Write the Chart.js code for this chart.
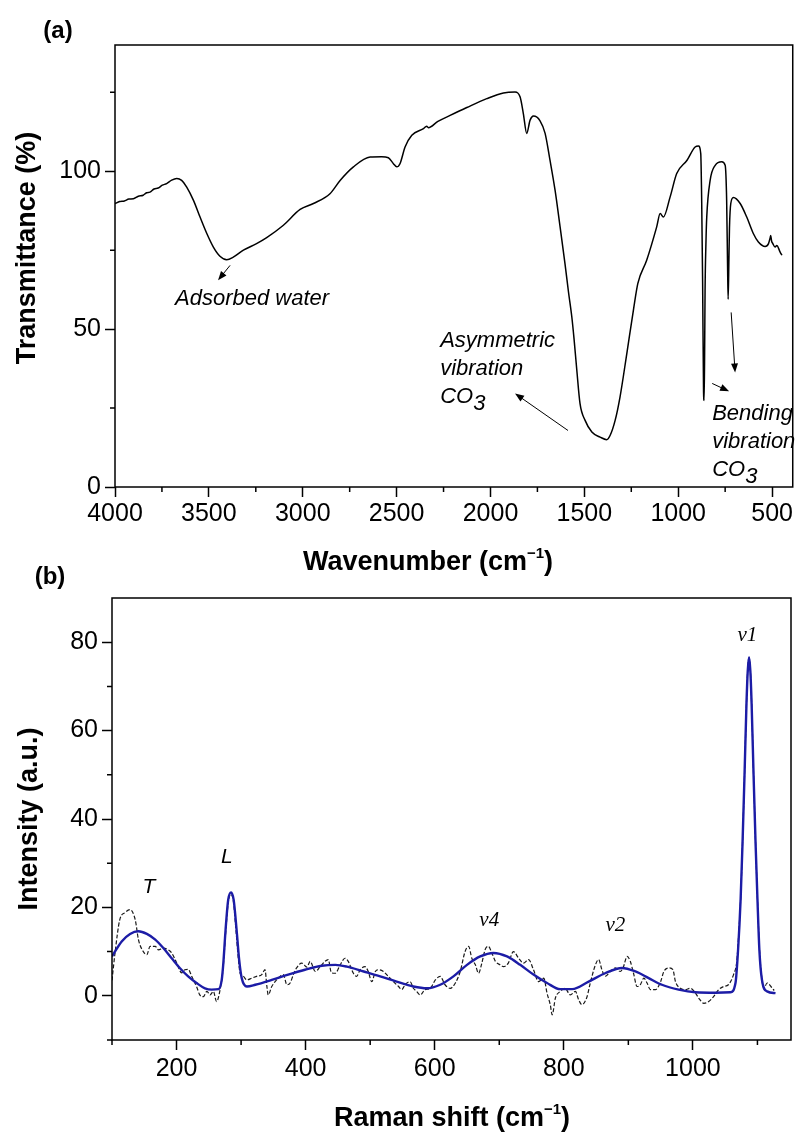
<!DOCTYPE html>
<html>
<head>
<meta charset="utf-8">
<script src="https://cdn.jsdelivr.net/npm/chart.js@4.4.1/dist/chart.umd.min.js"></script>
<style>
  body { margin: 0; background: #fff; }
  .wrap { position: relative; width: 795px; height: 1133px; }
  canvas { position: absolute; left: 0; }
  #ftir { top: 0; }
  #raman { top: 560px; }
</style>
</head>
<body>
<div class="wrap">
  <canvas id="ftir" width="795" height="590"></canvas>
  <canvas id="raman" width="795" height="573"></canvas>
</div>
<script>
// (a) FTIR spectrum
const wavenumber = [4000, 3975, 3950, 3926, 3902, 3876, 3850, 3832, 3814, 3792, 3770, 3748, 3725, 3698, 3671, 3645,
  3618, 3582, 3547, 3511, 3476, 3441, 3405,
  3370, 3316, 3246, 3192, 3103, 3014, 2943, 2855, 2801, 2730, 2641, 2580, 2544, 2517, 2499, 2482, 2455, 2419, 2357,
  2340, 2331, 2280, 2215, 2126, 2020, 1931, 1869, 1842, 1825, 1807, 1789, 1771, 1736, 1709, 1683, 1656, 1629, 1603,
  1585, 1567, 1555, 1540, 1523, 1496, 1460, 1416, 1381, 1363, 1336, 1310, 1274, 1239, 1215, 1168, 1115, 1096, 1079,
  1043, 1008, 953, 910, 892, 880, 875, 870, 865, 862, 859, 857, 852, 848, 830, 803, 768, 750, 742, 737, 734, 730,
  727, 720, 706, 670, 635, 600, 573, 537, 519, 510, 507, 503, 496, 484, 475, 457, 448];
const transmittance = [89.8, 90.4, 90.6, 91.2, 91.3, 92.1, 92.4, 93.2, 93.4, 94.4, 94.7, 95.6, 96.1, 97.2, 97.7, 97.1,
  95, 90.8, 85.5, 80.3, 76, 73.1, 72,
  72.8, 75, 77.1, 79, 82.9, 87.9, 89.8, 92.9, 97.1, 101.4, 104.5, 104.6, 104.3, 102.4, 101.4, 102.4, 107.7, 111.4, 113.5,
  114.3, 113.8, 115.8, 117.7, 120.2, 123, 124.8, 125.1, 123.5, 118.3, 112, 116.2, 117.5, 116, 112, 103.5, 94, 82.3, 70.7,
  62, 54, 47, 36.9, 26.4, 21.1, 17.4, 15.8, 15, 16.3, 21.1, 28.5, 42.2, 55.9, 64.5, 71.8, 82.3, 86.6, 85.5,
  91.9, 99.3, 103.5, 107.7, 108, 105.6, 90.8, 65, 30, 27.4, 45, 62, 78, 85.5, 97.1, 101.9, 103, 101.9, 90.8, 69.7, 59.5, 72,
  82, 89.8, 91.7, 89.8, 85.5, 80.3, 77.6, 76.2, 77.1, 79, 79.7, 78, 77.1, 76, 76.5, 74.4, 73.4];
const ftirTicksX = [4000, 3500, 3000, 2500, 2000, 1500, 1000, 500];
const ftirMinorX = [3750, 3250, 2750, 2250, 1750, 1250, 750];
const ftirTicksY = [0, 50, 100];
const ftirMinorY = [25, 75, 125];

// (b) Raman spectrum: measured (dashed) and fitted (blue)
const ramanShift = [100, 104.7, 112, 120, 128, 136, 141, 148.5, 154, 159, 167, 172, 179.5, 187, 192.5, 200, 208, 213,
  218, 223.5, 231, 236, 241.5, 247, 252, 257, 262, 267.5, 272, 276, 280, 284, 288, 292, 296, 298.5, 303.5, 309, 316.5,
  324, 332, 337, 340, 342, 347.5, 355, 360.5, 365.5, 371, 376, 381, 386, 394, 402, 407, 415, 422.5, 430, 435, 440, 446,
  453.5, 461, 466, 474, 479, 484.5, 492, 497, 502.5, 508, 513, 520.5, 528, 536, 544, 549, 554, 562, 567, 572, 577.5,
  585, 593, 601, 608.5, 616, 624, 632, 639.5, 647, 652.5, 657.5, 663, 668, 673, 678, 683, 688.5, 694, 701.5, 706.5,
  714, 722, 730, 737.5, 745.5, 753, 761, 769, 774, 779, 782, 787, 794.5, 802, 810, 818, 823, 828, 836, 841, 849, 854,
  859, 864, 872, 880, 887.5, 892.5, 898, 903, 908, 913.5, 918.5, 924, 929, 934, 942, 950, 955, 963, 969, 973, 980.5,
  988, 996, 1004, 1009, 1017, 1024.5, 1032, 1040, 1047.5, 1055, 1063, 1068, 1071, 1074, 1077, 1080, 1083, 1085, 1087,
  1089, 1091, 1094, 1097, 1100, 1103, 1106, 1110, 1115, 1123, 1126];
const ramanMeasured = [3.5, 9.7, 17.2, 18.8, 19.5, 17.2, 12.7, 10, 9.3, 11.2, 11.2, 10.4, 10.8, 10.4, 9.7, 7.5, 5.2, 5.9,
  6, 4.4, 2.1, 0.2, -0.2, 1, 0.2, 1, -1.3, 1.4, 6, 14, 21, 23, 21.5, 15, 8, 5.1, 4.4, 3.6, 4,
  4.4, 4.8, 5.9, 2.1, 0.2, 2.1, 3.6, 4.4, 4.8, 2.5, 2.9, 4.8, 6.3, 7.4, 6.5, 7.8, 5.5, 6.6, 7.8, 8.2, 5.2, 5.1,
  7, 8.5, 7.8, 5.1, 4.4, 5.9, 6.6, 5.5, 3.2, 5.5, 5.9, 5.5, 4.4, 3.2, 2.1, 1.4, 2.5, 3.2, 1.7, 1, 0.2,
  1.4, 1.7, 3.6, 4.4, 2.5, 1.7, 2.9, 5.5, 10, 11.2, 8.5, 7, 5.1, 7.4, 10.4, 11.2, 9.7, 7.8, 7, 6.6,
  7.4, 10, 8.5, 7.4, 8.2, 5.9, 3.2, 4, 0.6, -2, -4.3, -0.5, 1, 1.7, 0.2, 1, -0.9, -2, -0.2, 2.9, 7, 8.2,
  5.9, 4.4, 5.5, 6.3, 5.5, 6.6, 8.9, 7.8, 5.1, 2.1, 2.5, 4, 2.9, 1.4, 1.4, 3.2, 5.5, 6.3, 5.9, 3.2, 1.7,
  1.4, 1.7, 0.6, -0.5, -1.7, -1.3, -0.2, 1.4, 2.1, 2.5, 4.8, 7.8, 14, 22, 35, 50, 66, 74, 76.4,
  74, 66, 50, 35, 22, 11, 5, 1.7, 2.9, 1.7, 1.2];
const fitShift = [100, 115, 128, 141, 154, 167, 179.5, 192.5, 205, 218, 231, 244, 254.5, 265, 270, 272.5, 276, 280,
  284.5, 288.5, 293, 297, 301, 309, 322, 347.5, 373, 399, 425, 446, 464, 490, 515.5, 541, 567, 588, 608.5, 629, 650,
  670.5, 691, 712, 732.5, 753, 774, 794.5, 813, 838.5, 864, 890, 911, 931.5, 952, 978, 1004, 1035, 1058, 1066, 1070,
  1074, 1077, 1080, 1083, 1085, 1087, 1089, 1091, 1094, 1097, 1100, 1103, 1107, 1115, 1128];
const ramanFit = [8.9, 12.3, 14, 14.6, 14, 12.7, 10.8, 8.5, 6.3, 4.4, 2.9, 1.7, 1.4, 1.5, 3.6, 7.4, 15, 21.7,
  23.4, 21.7, 15, 8.2, 4, 2.1, 2.5, 3.6, 4.8, 5.9, 6.8, 7, 6.6, 5.5, 4.4, 3.2, 2.1, 1.7, 2.5, 4.4, 7,
  8.9, 9.7, 8.9, 7, 4.8, 2.9, 1.5, 1.5, 3.2, 5.1, 6.3, 5.5, 4, 2.5, 1.4, 0.8, 0.7, 0.8, 2.9, 10.4,
  22, 35, 50, 66, 73.5, 76.6, 73.5, 66, 50, 35, 22, 10.4, 3.6, 1, 0.6];
const ramanTicksX = [200, 400, 600, 800, 1000];
const ramanMinorX = [100, 300, 500, 700, 900, 1100];
const ramanTicksY = [0, 20, 40, 60, 80];
const ramanMinorY = [-10, 10, 30, 50, 70];

const SANS = 'Arial, "Liberation Sans", sans-serif';
const SERIF = '"Times New Roman", "Liberation Serif", serif';

function toPoints(xs, ys) {
  return xs.map((x, i) => ({ x: x, y: ys[i] }));
}

function arrow(ctx, x1, y1, x2, y2) {
  const a = Math.atan2(y2 - y1, x2 - x1);
  const c = Math.cos(a), s = Math.sin(a);
  ctx.beginPath();
  ctx.moveTo(x1, y1);
  ctx.lineTo(x2 - 6 * c, y2 - 6 * s);
  ctx.stroke();
  ctx.beginPath();
  ctx.moveTo(x2, y2);
  ctx.lineTo(x2 - 9 * c + 3.5 * s, y2 - 9 * s - 3.5 * c);
  ctx.lineTo(x2 - 9 * c - 3.5 * s, y2 - 9 * s + 3.5 * c);
  ctx.closePath();
  ctx.fill();
}

// text with a raised "-1" part, centred on cx
function supTitle(ctx, main, sup, cx, baseline) {
  ctx.font = 'bold 27px ' + SANS;
  const w1 = ctx.measureText(main).width;
  const w3 = ctx.measureText(')').width;
  ctx.font = 'bold 15px ' + SANS;
  const w2 = ctx.measureText(sup).width;
  let x = cx - (w1 + w2 + w3) / 2;
  ctx.textAlign = 'left';
  ctx.textBaseline = 'alphabetic';
  ctx.font = 'bold 27px ' + SANS;
  ctx.fillText(main, x, baseline);
  x += w1;
  ctx.font = 'bold 15px ' + SANS;
  ctx.fillText(sup, x, baseline - 12);
  x += w2;
  ctx.font = 'bold 27px ' + SANS;
  ctx.fillText(')', x, baseline);
}

function vertTitle(ctx, text, cx, cy) {
  ctx.save();
  ctx.translate(cx, cy);
  ctx.rotate(-Math.PI / 2);
  ctx.font = 'bold 27px ' + SANS;
  ctx.textAlign = 'center';
  ctx.textBaseline = 'middle';
  ctx.fillText(text, 0, 0);
  ctx.restore();
}

function co3(ctx, x, y) {
  ctx.textAlign = 'left';
  ctx.fillText('CO', x, y);
  ctx.fillText('3', x + ctx.measureText('CO').width, y + 7);
}

// frame, minor ticks and all the hand-placed text
function decor(minorX, minorY, drawText) {
  return {
    id: 'decor',
    afterDraw(chart) {
      const { ctx, chartArea: a, scales } = chart;
      ctx.save();
      ctx.strokeStyle = '#000';
      ctx.fillStyle = '#000';
      ctx.lineWidth = 1.5;
      ctx.strokeRect(a.left, a.top, a.right - a.left, a.bottom - a.top);
      ctx.beginPath();
      minorX.forEach(v => {
        const p = scales.x.getPixelForValue(v);
        ctx.moveTo(p, a.bottom);
        ctx.lineTo(p, a.bottom + 5);
      });
      minorY.forEach(v => {
        const p = scales.y.getPixelForValue(v);
        ctx.moveTo(a.left - 5, p);
        ctx.lineTo(a.left, p);
      });
      ctx.stroke();
      const pt = (x, y) => [scales.x.getPixelForValue(x), scales.y.getPixelForValue(y)];
      drawText(ctx, pt);
      ctx.restore();
    }
  };
}

function axisOpts(ticks, min, max, reverse, size) {
  return {
    type: 'linear',
    min: min,
    max: max,
    reverse: reverse,
    afterBuildTicks: s => { s.ticks = ticks.map(v => ({ value: v })); },
    afterFit: size,
    grid: { drawOnChartArea: false, tickLength: 10, tickColor: '#000', tickWidth: 1.5 },
    border: { display: false },
    ticks: {
      font: { size: 25, family: SANS },
      color: '#000',
      padding: 4,
      maxRotation: 0,
      autoSkip: false,
      callback: v => String(v)
    }
  };
}

const common = {
  responsive: false,
  animation: false,
  devicePixelRatio: 1,
  events: [],
  plugins: { legend: { display: false }, tooltip: { enabled: false } }
};

// ---- (a) ----
const xA = axisOpts(ftirTicksX, 390, 4000, true, s => { s.height = 103; });
xA.ticks.padding = 2;
new Chart(document.getElementById('ftir'), {
  type: 'line',
  data: {
    datasets: [{
      data: toPoints(wavenumber, transmittance),
      borderColor: '#000',
      borderWidth: 1.5,
      pointRadius: 0,
      cubicInterpolationMode: 'monotone',
      fill: false
    }]
  },
  options: Object.assign({}, common, {
    layout: { padding: { left: 0, top: 45, right: 2, bottom: 0 } },
    scales: {
      x: xA,
      y: axisOpts(ftirTicksY, 0, 140, false, s => { s.width = 115; })
    }
  }),
  plugins: [decor(ftirMinorX, ftirMinorY, (ctx, pt) => {
    ctx.font = 'bold 24px ' + SANS;
    ctx.textAlign = 'center';
    ctx.textBaseline = 'alphabetic';
    ctx.fillText('(a)', 58, 38);
    vertTitle(ctx, 'Transmittance (%)', 28, 248);
    supTitle(ctx, 'Wavenumber (cm', '\u22121', 428, 570);

    ctx.font = 'italic 22px ' + SANS;
    ctx.textAlign = 'left';
    let p = pt(3680, 57.8);
    ctx.fillText('Adsorbed water', p[0], p[1]);
    p = pt(2268, 44.2);
    ctx.fillText('Asymmetric', p[0], p[1]);
    ctx.fillText('vibration', p[0], p[1] + 28);
    co3(ctx, p[0], p[1] + 56);
    p = pt(819, 21.1);
    ctx.fillText('Bending', p[0], p[1]);
    ctx.fillText('vibration', p[0], p[1] + 28);
    co3(ctx, p[0], p[1] + 56);

    ctx.lineWidth = 1;
    const arrows = [
      [3387, 70.2, 3451, 65.5],
      [1587, 17.9, 1869, 29.6],
      [819, 32.8, 729, 30.3],
      [718, 55.3, 697, 36.3]
    ];
    arrows.forEach(r => {
      const s = pt(r[0], r[1]), e = pt(r[2], r[3]);
      arrow(ctx, s[0], s[1], e[0], e[1]);
    });
  })]
});

// ---- (b) ----
new Chart(document.getElementById('raman'), {
  type: 'line',
  data: {
    datasets: [{
      data: toPoints(fitShift, ramanFit),
      borderColor: '#1c1ca6',
      borderWidth: 2.4,
      pointRadius: 0,
      cubicInterpolationMode: 'monotone',
      fill: false
    }, {
      data: toPoints(ramanShift, ramanMeasured),
      borderColor: '#1a1a1a',
      borderWidth: 1.2,
      borderDash: [4, 2],
      pointRadius: 0,
      cubicInterpolationMode: 'monotone',
      fill: false
    }]
  },
  options: Object.assign({}, common, {
    layout: { padding: { left: 0, top: 38, right: 4, bottom: 0 } },
    scales: {
      x: axisOpts(ramanTicksX, 100, 1152, false, s => { s.height = 93; }),
      y: axisOpts(ramanTicksY, -10, 90, false, s => { s.width = 112; })
    }
  }),
  plugins: [decor(ramanMinorX, ramanMinorY, (ctx, pt) => {
    ctx.font = 'bold 24px ' + SANS;
    ctx.textAlign = 'center';
    ctx.textBaseline = 'alphabetic';
    ctx.fillText('(b)', 50, 24);
    vertTitle(ctx, 'Intensity (a.u.)', 30, 259);
    supTitle(ctx, 'Raman shift (cm', '\u22121', 452, 566);

    ctx.textAlign = 'center';
    ctx.font = 'italic 21px ' + SANS;
    let p = pt(157, 23.3);
    ctx.fillText('T', p[0], p[1]);
    p = pt(278, 30.1);
    ctx.fillText('L', p[0], p[1]);
    ctx.font = 'italic 21px ' + SERIF;
    p = pt(684.5, 15.9);
    ctx.fillText('\u03bd4', p[0], p[1]);
    p = pt(880, 14.7);
    ctx.fillText('\u03bd2', p[0], p[1]);
    p = pt(1084.5, 80.2);
    ctx.fillText('\u03bd1', p[0], p[1]);
  })]
});
</script>
</body>
</html>
